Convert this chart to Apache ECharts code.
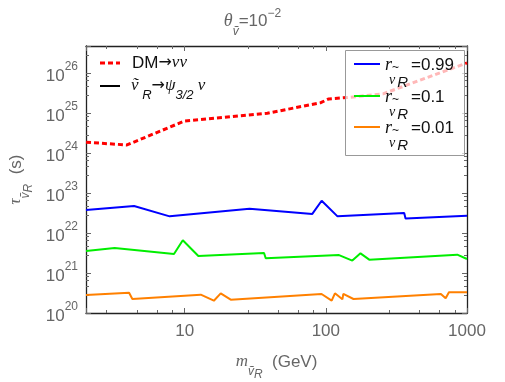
<!DOCTYPE html>
<html>
<head>
<meta charset="utf-8">
<script src="https://cdn.jsdelivr.net/npm/echarts@6/dist/echarts.min.js"></script>
<style>
html, body { margin: 0; padding: 0; background: #fff; }
#chart { width: 505px; height: 382px; }
</style>
</head>
<body>
<div id="chart"></div>
<script>
// values (mass in GeV, lifetime in s)
var massDM = [2, 3.9, 10, 38.5, 92, 105, 150, 254, 1000];
var tauDM = [1.85e24, 1.58e24, 6.3e24, 9.8e24, 1.8e25, 2.24e25, 2.47e25, 2.99e25, 1.78e26];

var massR099 = [2, 4.38, 7.83, 28.8, 80.2, 93.4, 121, 359, 367, 1000];
var tauR099 = [3.76e22, 4.73e22, 2.6e22, 4.05e22, 2.99e22, 6.4e22, 2.6e22, 3.16e22, 2.29e22, 2.7e22];

var massR01 = [2, 3.19, 8.4, 9.7, 12.5, 36.5, 37.5, 124, 154, 176, 203, 853, 1000];
var tauR01 = [3.55e21, 4.2e21, 2.99e21, 6.6e21, 2.66e21, 3.16e21, 2.33e21, 2.8e21, 2.04e21, 3.1e21, 2.15e21, 2.87e21, 2.24e21];

var massR001 = [2, 4.04, 4.26, 13.0, 16.1, 18.0, 21.2, 93.3, 110, 116, 131, 133, 157, 653, 706, 745, 1000];
var tauR001 = [2.82e20, 3.22e20, 2.24e20, 2.87e20, 2.03e20, 3.1e20, 2.15e20, 2.99e20, 2.03e20, 3.1e20, 2.2e20, 2.99e20, 2.24e20, 2.99e20, 2.33e20, 3.3e20, 3.3e20];

var xRange = [2, 1000];
var yRange = [1e20, 4.7e26];

function zip(xs, ys) {
	return xs.map(function (x, i) { return [x, ys[i]]; });
}

var grey = '#666';
var frame = '#222';
var tickCol = '#666';

function frameAxis(dim, pos, withLabels) {
	var r = dim === 'x' ? xRange : yRange;
	var ax = {
		type: 'log',
		logBase: 10,
		position: pos,
		min: r[0],
		max: r[1],
		splitNumber: dim === 'x' ? 3 : 7,
		axisLine: { show: true, onZero: false, lineStyle: { color: frame, width: 1.3 } },
		axisTick: { show: true, inside: true, length: 5, lineStyle: { color: tickCol, width: 1 } },
		minorTick: { show: true, length: 3, lineStyle: { color: tickCol, width: 1 } },
		axisLabel: { show: false },
		splitLine: { show: false },
		minorSplitLine: { show: false }
	};
	if (withLabels) {
		ax.axisLabel = dim === 'x' ? {
			show: true,
			color: grey,
			fontSize: 17,
			fontFamily: 'Liberation Sans',
			margin: 10,
			formatter: function (v) {
				var e = Math.log10(v);
				return Math.abs(e - Math.round(e)) < 1e-6 ? String(Math.round(v)) : '';
			}
		} : {
			show: true,
			margin: 8,
			formatter: function (v) {
				var e = Math.log10(v);
				if (Math.abs(e - Math.round(e)) > 1e-6) return '';
				return '{b|10}{s|' + Math.round(e) + '}';
			},
			rich: {
				b: { fontSize: 17, color: grey, fontFamily: 'Liberation Sans', lineHeight: 24, verticalAlign: 'bottom' },
				s: { fontSize: 12, color: grey, fontFamily: 'Liberation Sans', lineHeight: 24, verticalAlign: 'top' }
			}
		};
	}
	return ax;
}

var nameRich = {
	i: { fontSize: 17, color: grey, fontStyle: 'italic', fontFamily: 'Liberation Serif', lineHeight: 24 },
	sub: { fontSize: 12, color: grey, fontStyle: 'italic', fontFamily: 'Liberation Sans', lineHeight: 24, verticalAlign: 'bottom', padding: [0, 0, -4, 0] },
	sub2: { fontSize: 12, color: grey, fontStyle: 'italic', fontFamily: 'Liberation Sans', lineHeight: 24, verticalAlign: 'bottom', padding: [0, 0, -7, 0] },
	n: { fontSize: 17, color: grey, fontFamily: 'Liberation Sans', lineHeight: 24 }
};

var xAxes = [frameAxis('x', 'bottom', true), frameAxis('x', 'top', false)];
xAxes[0].name = '{i|m}{sub|ṽ}{sub2|R}{n|  (GeV)}';
xAxes[0].nameLocation = 'middle';
xAxes[0].nameGap = 37;
xAxes[0].nameTextStyle = { rich: nameRich };

var yAxes = [frameAxis('y', 'left', true), frameAxis('y', 'right', false)];
yAxes[0].name = '{i|τ}{sub|ṽ}{sub2|R}{n|  (s)}';
yAxes[0].nameLocation = 'middle';
yAxes[0].nameGap = 56;
yAxes[0].nameRotate = 90;
yAxes[0].nameTextStyle = { rich: nameRich };

function lineSeries(name, xs, ys, color, width, type) {
	return {
		name: name,
		type: 'line',
		xAxisIndex: 0,
		yAxisIndex: 0,
		data: zip(xs, ys),
		symbol: 'none',
		silent: true,
		lineStyle: { color: color, width: width, type: type || 'solid' },
		z: 3
	};
}

function rLegend(y, color, value) {
	return [
		{ type: 'line', z: 101, shape: { x1: 354, y1: y, x2: 380, y2: y }, style: { stroke: color, lineWidth: 2 } },
		{ type: 'text', z: 101, x: 385, y: y + 1, style: {
			text: '{i|r}{t|~}',
			verticalAlign: 'middle',
			rich: {
				i: { fontSize: 18, fontStyle: 'italic', fontFamily: 'Liberation Serif', fill: '#111' },
				t: { fontSize: 12, fill: '#111', fontFamily: 'Liberation Sans', padding: [6, 0, 0, 0] }
			}
		} },
		{ type: 'text', z: 101, x: 411, y: y + 1, style: { text: value, verticalAlign: 'middle', fontSize: 17, fontFamily: 'Liberation Sans', fill: '#111' } },
		{ type: 'text', z: 101, x: 389, y: y + 16, style: {
			text: '{v|ν}{r|R}',
			verticalAlign: 'middle',
			rich: {
				v: { fontSize: 14, fontStyle: 'italic', fill: '#111', fontFamily: 'Liberation Serif' },
				r: { fontSize: 15, fontStyle: 'italic', fill: '#111', fontFamily: 'Liberation Sans', padding: [6, 0, 0, 2] }
			}
		} }
	];
}

var graphics = [
	{ type: 'text', z: 101, left: 'center', top: 8, style: {
		text: '{i|θ}{sub|ṽ}{n|=10}{sup|−2}',
		rich: {
			i: { fontSize: 18, fontStyle: 'italic', fontFamily: 'Liberation Serif', fill: grey, lineHeight: 26 },
			sub: { fontSize: 12, fontStyle: 'italic', fill: grey, fontFamily: 'Liberation Sans', lineHeight: 26, verticalAlign: 'bottom', padding: [0, 0, -4, 0] },
			n: { fontSize: 17, fill: grey, fontFamily: 'Liberation Sans', lineHeight: 26 },
			sup: { fontSize: 12, fill: grey, fontFamily: 'Liberation Sans', lineHeight: 26, verticalAlign: 'top' }
		}
	} },
	// left legend
	{ type: 'line', z: 101, shape: { x1: 100, y1: 63, x2: 120, y2: 63 }, style: { stroke: '#ff0000', lineWidth: 3, lineDash: [5, 3] } },
	{ type: 'text', z: 101, x: 132, y: 63, style: {
		text: '{n|DM}{a|→}{i|νν}',
		verticalAlign: 'middle',
		rich: {
			n: { fontSize: 17, fontFamily: 'Liberation Sans', fill: '#111' },
			a: { fontSize: 16, fontFamily: 'DejaVu Sans', fill: '#111' },
			i: { fontSize: 17, fontStyle: 'italic', fontFamily: 'Liberation Serif', fill: '#111' }
		}
	} },
	{ type: 'line', z: 101, shape: { x1: 100, y1: 86, x2: 120, y2: 86 }, style: { stroke: '#000', lineWidth: 2 } },
	{ type: 'text', z: 101, x: 131, y: 86, style: {
		text: '{i|ṽ}{sub| R}{a|→}{i|ψ}{sub|3/2}{i| ν}',
		verticalAlign: 'middle',
		rich: {
			a: { fontSize: 16, fontFamily: 'DejaVu Sans', fill: '#111', lineHeight: 22 },
			i: { fontSize: 17, fontStyle: 'italic', fontFamily: 'Liberation Serif', fill: '#111', lineHeight: 22 },
			sub: { fontSize: 13, fontStyle: 'italic', fontFamily: 'Liberation Sans', fill: '#111', lineHeight: 22, verticalAlign: 'bottom', padding: [0, 0, -5, 0] }
		}
	} },
	// right legend box
	{ type: 'rect', z: 100, shape: { x: 345.5, y: 50.5, width: 119, height: 105 }, style: { fill: 'rgba(255,255,255,0.72)', stroke: '#999', lineWidth: 1 } }
].concat(rLegend(64, '#0000ff', '=0.99'))
 .concat(rLegend(96, '#00ee00', '=0.1'))
 .concat(rLegend(127, '#ff8000', '=0.01'));

var chart = echarts.init(document.getElementById('chart'), null, { renderer: 'canvas' });
chart.setOption({
	backgroundColor: '#fff',
	animation: false,
	grid: { left: 86, right: 38, top: 46, bottom: 69, outerBoundsMode: 'none' },
	xAxis: xAxes,
	yAxis: yAxes,
	graphic: graphics,
	series: [
		lineSeries('DM→νν', massDM, tauDM, '#ff0000', 3, [5, 3]),
		lineSeries('r=0.99', massR099, tauR099, '#0000ff', 2),
		lineSeries('r=0.1', massR01, tauR01, '#00ee00', 2),
		lineSeries('r=0.01', massR001, tauR001, '#ff8000', 2)
	]
});
</script>
</body>
</html>
